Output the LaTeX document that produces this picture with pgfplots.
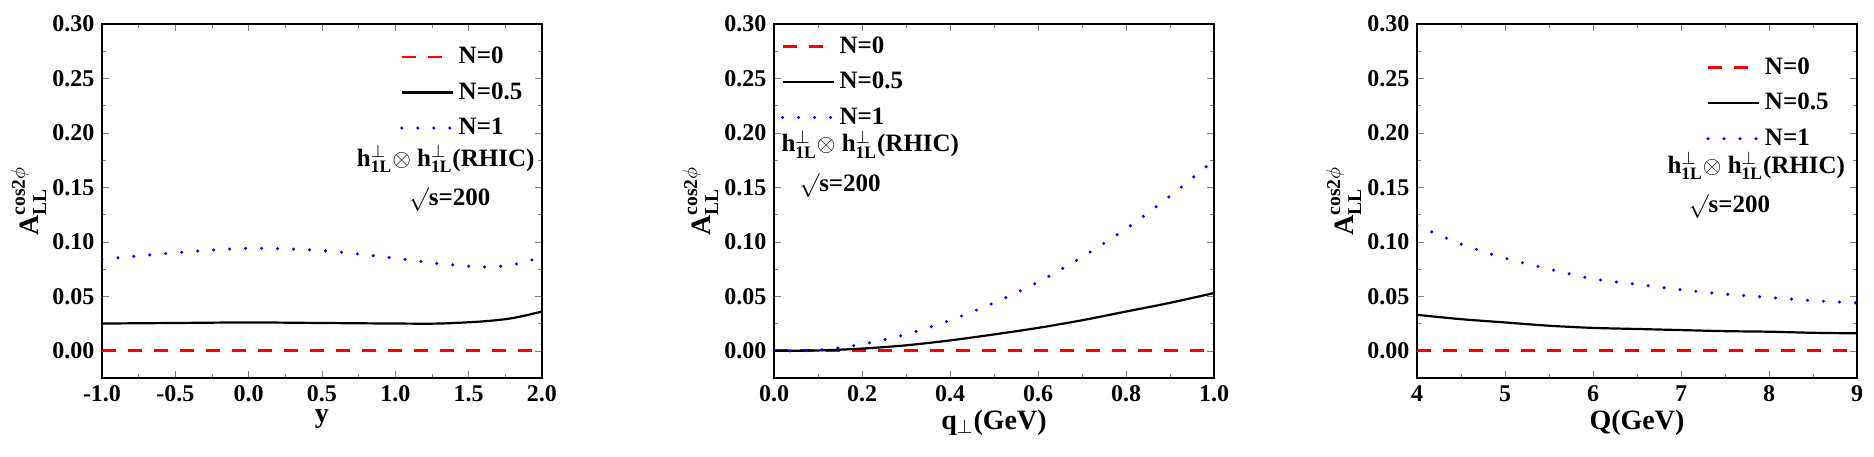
\documentclass[border=0pt]{standalone}
\usepackage{pgfplots}
\pgfplotsset{compat=1.18}
\usepackage{fontspec}
\setmainfont{Liberation Serif}
\usepackage{amssymb}
\begin{document}
\begin{tikzpicture}[x=1pt,y=1pt]
\path[use as bounding box] (0,0) rectangle (937,228);
\pgfplotsset{
 myax/.style={
  width=220pt,height=177pt,scale only axis,
  ymin=-0.025,ymax=0.30,
  ytick={0,0.05,...,0.30},
  minor x tick num=1, minor y tick num=1,
  tick align=inside, tick pos=both,
  line width=0.9pt,
  major tick length=3.5pt, minor tick length=2pt,
  /pgf/number format/assume math mode=true,
  yticklabel style={/pgf/number format/fixed,/pgf/number format/fixed zerofill,/pgf/number format/precision=2,font=\bfseries\fontsize{12}{12}\selectfont},
  xticklabel style={font=\bfseries\fontsize{12}{12}\selectfont},
  ylabel={\textbf{A}$_{\mathbf{LL}}^{\mathbf{cos2\phi}}$},
  ylabel style={font=\bfseries\fontsize{14}{14}\selectfont,yshift=-4pt},
  xlabel style={font=\bfseries\fontsize{14}{14}\selectfont,yshift=3pt},
  legend style={draw=none,fill=none,font=\bfseries\fontsize{12.5}{12.5}\selectfont,at={(0.98,0.96)},anchor=north east,row sep=4pt},
  legend image post style={xscale=1.5},
  legend cell align=left,
  every axis plot/.append style={line width=1.1pt},
 },
 dotsty/.style={blue,line width=1.7pt,line cap=round,dash pattern=on 0pt off 8pt,smooth},
 dashsty/.style={red,line width=1.3pt,dash pattern=on 7pt off 6pt},
}
\begin{axis}[myax,at={(51pt,39pt)},xmin=-1,xmax=2,xtick={-1,-0.5,...,2},
 xticklabel style={/pgf/number format/fixed,/pgf/number format/fixed zerofill,/pgf/number format/precision=1},xlabel={y}]
\addplot[dashsty] coordinates {(-1,0)(2,0)};
\addplot[black,smooth] coordinates {(-1,0.025)(-0.5,0.0255)(0,0.026)(0.5,0.0255)(1,0.025)(1.3,0.025)(1.6,0.027)(1.8,0.030)(2,0.036)};
\addplot[dotsty] coordinates {(-1,0.084)(-0.5,0.090)(0,0.094)(0.5,0.092)(1,0.085)(1.3,0.080)(1.6,0.077)(1.8,0.079)(2,0.086)};
\legend{N=0,N=0.5,N=1}
\node[font=\bfseries\fontsize{12.5}{12.5}\selectfont,anchor=north east] at (rel axis cs:1.0,0.68) {h$_{\mathbf{1L}}^{\perp}\otimes$ h$_{\mathbf{1L}}^{\perp}$(RHIC)};
\node[font=\bfseries\fontsize{12.5}{12.5}\selectfont,anchor=north] at (rel axis cs:0.79,0.56) {$\surd$s=200};
\end{axis}
\begin{axis}[myax,at={(387pt,39pt)},xmin=0,xmax=1,xtick={0,0.2,...,1},
 xticklabel style={/pgf/number format/fixed,/pgf/number format/fixed zerofill,/pgf/number format/precision=1},xlabel={q$_{\perp}$(GeV)},
 legend style={at={(0.0,0.99)},anchor=north west}]
\addplot[dashsty] coordinates {(0,0)(1,0)};
\addplot[black,smooth] coordinates {(0,0)(0.1,0.0003)(0.2,0.002)(0.3,0.005)(0.4,0.0095)(0.5,0.015)(0.6,0.021)(0.7,0.028)(0.8,0.036)(0.9,0.044)(1,0.053)};
\addplot[dotsty] coordinates {(0,0)(0.1,0.0005)(0.2,0.006)(0.3,0.015)(0.4,0.028)(0.5,0.044)(0.6,0.063)(0.7,0.086)(0.8,0.112)(0.9,0.142)(1,0.175)};
\legend{N=0,N=0.5,N=1}
\node[font=\bfseries\fontsize{12.5}{12.5}\selectfont,anchor=north west] at (rel axis cs:0.0,0.72) {h$_{\mathbf{1L}}^{\perp}\otimes$ h$_{\mathbf{1L}}^{\perp}$(RHIC)};
\node[font=\bfseries\fontsize{12.5}{12.5}\selectfont,anchor=north] at (rel axis cs:0.15,0.60) {$\surd$s=200};
\end{axis}
\begin{axis}[myax,at={(708.5pt,39pt)},xmin=4,xmax=9,xtick={4,...,9},xlabel={Q(GeV)},
 legend style={at={(0.96,0.93)}}]
\addplot[dashsty] coordinates {(4,0)(9,0)};
\addplot[black,smooth] coordinates {(4,0.033)(4.5,0.029)(5,0.026)(5.5,0.023)(6,0.021)(6.5,0.020)(7,0.019)(7.5,0.018)(8,0.0175)(8.5,0.0165)(9,0.016)};
\addplot[dotsty] coordinates {(4,0.115)(4.5,0.098)(5,0.085)(5.5,0.075)(6,0.066)(6.5,0.061)(7,0.056)(7.5,0.052)(8,0.049)(8.5,0.046)(9,0.044)};
\legend{N=0,N=0.5,N=1}
\node[font=\bfseries\fontsize{12.5}{12.5}\selectfont,anchor=north east] at (rel axis cs:0.99,0.66) {h$_{\mathbf{1L}}^{\perp}\otimes$ h$_{\mathbf{1L}}^{\perp}$(RHIC)};
\node[font=\bfseries\fontsize{12.5}{12.5}\selectfont,anchor=north] at (rel axis cs:0.71,0.54) {$\surd$s=200};
\end{axis}
\end{tikzpicture}
\end{document}
